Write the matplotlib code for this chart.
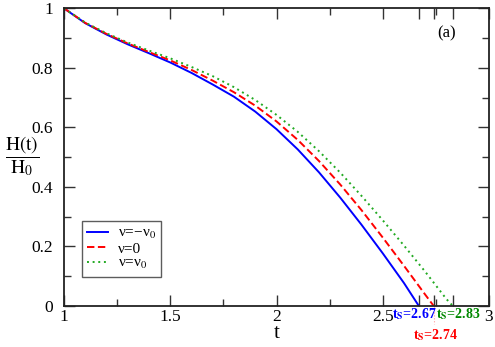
import matplotlib
matplotlib.use("Agg")
import matplotlib.pyplot as plt
from matplotlib.ticker import MultipleLocator, FixedLocator

plt.rcParams['font.family'] = ['Liberation Serif', 'DejaVu Serif']
plt.rcParams['mathtext.fontset'] = 'stix'

# Data
t_blue = [1.0, 1.1, 1.2, 1.3, 1.4, 1.5, 1.6, 1.7, 1.8, 1.9, 2.0, 2.1, 2.2, 2.3, 2.4, 2.5, 2.6, 2.67]
h_blue = [1.0, 0.950, 0.912, 0.879, 0.849, 0.818, 0.783, 0.744, 0.703, 0.653, 0.594, 0.526, 0.449, 0.364, 0.273, 0.177, 0.077, 0.0]

t_red = [1.0, 1.1, 1.2, 1.3, 1.4, 1.5, 1.6, 1.7, 1.8, 1.9, 2.0, 2.1, 2.2, 2.3, 2.4, 2.5, 2.6, 2.7, 2.74]
h_red = [1.0, 0.951, 0.914, 0.882, 0.853, 0.825, 0.793, 0.757, 0.718, 0.673, 0.620, 0.558, 0.487, 0.408, 0.322, 0.230, 0.135, 0.038, 0.0]

t_green = [1.0, 1.1, 1.2, 1.3, 1.4, 1.5, 1.6, 1.7, 1.8, 1.9, 2.0, 2.1, 2.2, 2.3, 2.4, 2.5, 2.6, 2.7, 2.8, 2.83]
h_green = [1.0, 0.952, 0.916, 0.885, 0.858, 0.832, 0.803, 0.772, 0.735, 0.692, 0.642, 0.585, 0.520, 0.448, 0.370, 0.288, 0.203, 0.115, 0.023, 0.0]

labels = ['ν=−ν$_0$', 'ν=0', 'ν=ν$_0$']
ts_values = [2.67, 2.74, 2.83]
ts_texts = ['t$_\\mathbf{S}$=2.67', 't$_\\mathbf{S}$=2.74', 't$_\\mathbf{S}$=2.83']

x_major = [1, 1.5, 2, 2.5, 3]
x_major_labels = ['1', '1.5', '2', '2.5', '3']
y_major = [0, 0.2, 0.4, 0.6, 0.8, 1]
y_major_labels = ['0', '0.2', '0.4', '0.6', '0.8', '1']

blue = '#0000ff'
red = '#ff0000'
green = '#22aa22'
green_text = '#008800'

fig = plt.figure(figsize=(4.95, 3.47), dpi=100)
ax = fig.add_axes([64/495, 1-306/347, 425/495, (306-8.3)/347])

ax.plot(t_blue, h_blue, color=blue, lw=1.4, ls='-', label=labels[0])
ax.plot(t_red, h_red, color=red, lw=1.4, ls=(0, (3.8, 1.8)), label=labels[1])
ax.plot(t_green, h_green, color=green, lw=1.4, ls=(0, (1, 1.9)), label=labels[2])

ax.set_xlim(1, 3)
ax.set_ylim(0, 1)

ax.xaxis.set_major_locator(FixedLocator(x_major + ts_values))
ax.set_xticklabels(x_major_labels + ['', '', ''])
ax.xaxis.set_minor_locator(FixedLocator([1.25, 1.75, 2.25, 2.75]))
ax.yaxis.set_major_locator(FixedLocator(y_major))
ax.set_yticklabels(y_major_labels)
ax.yaxis.set_minor_locator(MultipleLocator(0.1))

ax.tick_params(which='both', direction='in', top=True, right=True, labelsize=12.5, width=1.0, color='#333333')
ax.tick_params(which='major', length=8)
ax.tick_params(which='minor', length=5)
ax.tick_params(axis='x', pad=2.5)
ax.tick_params(axis='y', pad=8)
for s in ax.spines.values():
    s.set_linewidth(1.3)
    s.set_color('#222222')

ax.text(0.5, -0.093, 't', transform=ax.transAxes, fontsize=15, ha='center', va='center')
ax.text(-0.099, 0.505, r'$\dfrac{\mathrm{H(t)}}{\mathrm{H_0}}$', transform=ax.transAxes,
        fontsize=14, ha='center', va='center')

ax.text(2.8, 0.917, '(a)', fontsize=12, ha='center', va='center')

ts_colors = [blue, red, green_text]
ts_x = [2.649, 2.746, 2.856]
ts_y = [0.0, -0.072, 0.0]
for x, y, s, c in zip(ts_x, ts_y, ts_texts, ts_colors):
    ax.text(x, y, s, color=c, fontsize=10, fontweight='bold', ha='center', va='top', clip_on=False)

ax.plot([2.74, 2.74], [0, -0.06], color='#ff9999', lw=0.8, ls=':', clip_on=False)

leg = ax.legend(loc='lower left', bbox_to_anchor=((81.7-64)/425, (306-276.7)/297.7),
                fontsize=11, frameon=True, fancybox=False, edgecolor='#333333',
                handlelength=1.4, handletextpad=0.6, labelspacing=0.05, borderpad=0.35,
                borderaxespad=0)
leg.get_frame().set_linewidth(1.0)

fig.savefig('out.png', dpi=100)
